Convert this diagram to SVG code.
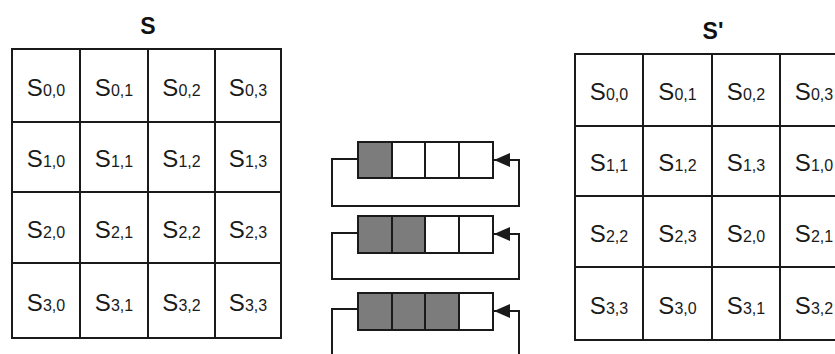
<svg xmlns="http://www.w3.org/2000/svg" width="835" height="354" viewBox="0 0 835 354">
<style>
.cell{fill:#fff;stroke:#1a1a1a;stroke-width:2}
.lbl{font-family:"Liberation Sans",Arial,sans-serif;font-size:24px;fill:#1a1a1a;text-anchor:middle}
.sub{font-size:16px}
.title{font-family:"Liberation Sans",Arial,sans-serif;font-size:23px;font-weight:bold;fill:#111;text-anchor:middle}
.box{fill:#fff;stroke:#1a1a1a;stroke-width:2}
.sh{fill:#7c7c7c;stroke:#1a1a1a;stroke-width:2}
.conn{fill:none;stroke:#1a1a1a;stroke-width:2}
</style>
<defs>
<marker id="ah" markerWidth="16" markerHeight="14" refX="16" refY="7" orient="auto" markerUnits="userSpaceOnUse">
<path d="M0,0 L16,7 L0,14 Z" fill="#1a1a1a"/>
</marker>
</defs>
<rect width="835" height="354" fill="#fff"/>
<text class="title" x="148" y="34">S</text>
<text class="title" x="713" y="39">S'</text>
<g id="S">
<g id="s00"><rect class="cell" x="12" y="49" width="68" height="73"/><text class="lbl" x="46" y="96">S<tspan class="sub">0,0</tspan></text></g>
<g id="s01"><rect class="cell" x="80" y="49" width="68" height="73"/><text class="lbl" x="114" y="96">S<tspan class="sub">0,1</tspan></text></g>
<g id="s02"><rect class="cell" x="148" y="49" width="67" height="73"/><text class="lbl" x="181.5" y="96">S<tspan class="sub">0,2</tspan></text></g>
<g id="s03"><rect class="cell" x="215" y="49" width="66" height="73"/><text class="lbl" x="248" y="96">S<tspan class="sub">0,3</tspan></text></g>
<g id="s10"><rect class="cell" x="12" y="122" width="68" height="70"/><text class="lbl" x="46" y="167">S<tspan class="sub">1,0</tspan></text></g>
<g id="s11"><rect class="cell" x="80" y="122" width="68" height="70"/><text class="lbl" x="114" y="167">S<tspan class="sub">1,1</tspan></text></g>
<g id="s12"><rect class="cell" x="148" y="122" width="67" height="70"/><text class="lbl" x="181.5" y="167">S<tspan class="sub">1,2</tspan></text></g>
<g id="s13"><rect class="cell" x="215" y="122" width="66" height="70"/><text class="lbl" x="248" y="167">S<tspan class="sub">1,3</tspan></text></g>
<g id="s20"><rect class="cell" x="12" y="192" width="68" height="71"/><text class="lbl" x="46" y="237.5">S<tspan class="sub">2,0</tspan></text></g>
<g id="s21"><rect class="cell" x="80" y="192" width="68" height="71"/><text class="lbl" x="114" y="237.5">S<tspan class="sub">2,1</tspan></text></g>
<g id="s22"><rect class="cell" x="148" y="192" width="67" height="71"/><text class="lbl" x="181.5" y="237.5">S<tspan class="sub">2,2</tspan></text></g>
<g id="s23"><rect class="cell" x="215" y="192" width="66" height="71"/><text class="lbl" x="248" y="237.5">S<tspan class="sub">2,3</tspan></text></g>
<g id="s30"><rect class="cell" x="12" y="263" width="68" height="75"/><text class="lbl" x="46" y="310.5">S<tspan class="sub">3,0</tspan></text></g>
<g id="s31"><rect class="cell" x="80" y="263" width="68" height="75"/><text class="lbl" x="114" y="310.5">S<tspan class="sub">3,1</tspan></text></g>
<g id="s32"><rect class="cell" x="148" y="263" width="67" height="75"/><text class="lbl" x="181.5" y="310.5">S<tspan class="sub">3,2</tspan></text></g>
<g id="s33"><rect class="cell" x="215" y="263" width="66" height="75"/><text class="lbl" x="248" y="310.5">S<tspan class="sub">3,3</tspan></text></g>
</g>
<g id="Sp">
<g id="p00"><rect class="cell" x="575" y="54" width="68" height="72"/><text class="lbl" x="609" y="100">S<tspan class="sub">0,0</tspan></text></g>
<g id="p01"><rect class="cell" x="643" y="54" width="69" height="72"/><text class="lbl" x="677.5" y="100">S<tspan class="sub">0,1</tspan></text></g>
<g id="p02"><rect class="cell" x="712" y="54" width="68" height="72"/><text class="lbl" x="746" y="100">S<tspan class="sub">0,2</tspan></text></g>
<g id="p03"><rect class="cell" x="780" y="54" width="68" height="72"/><text class="lbl" x="814" y="100">S<tspan class="sub">0,3</tspan></text></g>
<g id="p10"><rect class="cell" x="575" y="126" width="68" height="70"/><text class="lbl" x="609" y="171">S<tspan class="sub">1,1</tspan></text></g>
<g id="p11"><rect class="cell" x="643" y="126" width="69" height="70"/><text class="lbl" x="677.5" y="171">S<tspan class="sub">1,2</tspan></text></g>
<g id="p12"><rect class="cell" x="712" y="126" width="68" height="70"/><text class="lbl" x="746" y="171">S<tspan class="sub">1,3</tspan></text></g>
<g id="p13"><rect class="cell" x="780" y="126" width="68" height="70"/><text class="lbl" x="814" y="171">S<tspan class="sub">1,0</tspan></text></g>
<g id="p20"><rect class="cell" x="575" y="196" width="68" height="71"/><text class="lbl" x="609" y="241.5">S<tspan class="sub">2,2</tspan></text></g>
<g id="p21"><rect class="cell" x="643" y="196" width="69" height="71"/><text class="lbl" x="677.5" y="241.5">S<tspan class="sub">2,3</tspan></text></g>
<g id="p22"><rect class="cell" x="712" y="196" width="68" height="71"/><text class="lbl" x="746" y="241.5">S<tspan class="sub">2,0</tspan></text></g>
<g id="p23"><rect class="cell" x="780" y="196" width="68" height="71"/><text class="lbl" x="814" y="241.5">S<tspan class="sub">2,1</tspan></text></g>
<g id="p30"><rect class="cell" x="575" y="267" width="68" height="73"/><text class="lbl" x="609" y="313.5">S<tspan class="sub">3,3</tspan></text></g>
<g id="p31"><rect class="cell" x="643" y="267" width="69" height="73"/><text class="lbl" x="677.5" y="313.5">S<tspan class="sub">3,0</tspan></text></g>
<g id="p32"><rect class="cell" x="712" y="267" width="68" height="73"/><text class="lbl" x="746" y="313.5">S<tspan class="sub">3,1</tspan></text></g>
<g id="p33"><rect class="cell" x="780" y="267" width="68" height="73"/><text class="lbl" x="814" y="313.5">S<tspan class="sub">3,2</tspan></text></g>
</g>
<g id="shift1">
<rect class="sh" x="358" y="142" width="34" height="36"/>
<rect class="box" x="392" y="142" width="33" height="36"/>
<rect class="box" x="425" y="142" width="34" height="36"/>
<rect class="box" x="459" y="142" width="34" height="36"/>
</g>
<g id="shift2">
<rect class="sh" x="358" y="216" width="34" height="37"/>
<rect class="sh" x="392" y="216" width="33" height="37"/>
<rect class="box" x="425" y="216" width="34" height="37"/>
<rect class="box" x="459" y="216" width="34" height="37"/>
</g>
<g id="shift3">
<rect class="sh" x="358" y="293" width="34" height="37"/>
<rect class="sh" x="392" y="293" width="33" height="37"/>
<rect class="sh" x="425" y="293" width="34" height="37"/>
<rect class="box" x="459" y="293" width="34" height="37"/>
</g>
<g id="connectors">
<path class="conn" d="M358,159 H332 V206 H519 V160 H494" marker-end="url(#ah)"/>
<path class="conn" d="M358,233 H332 V279 H519 V234 H494" marker-end="url(#ah)"/>
<path class="conn" d="M358,309 H332 V360 M519,360 V311 H494" marker-end="url(#ah)"/>
</g>
</svg>
